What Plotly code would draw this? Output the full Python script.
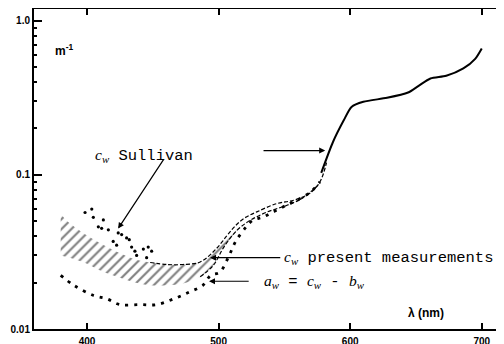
import plotly.graph_objects as go
import math

# ---- data ----
cw_upper_wl = [380, 385, 397, 410, 423, 435, 448, 461, 473, 486, 498, 506, 512, 519, 529, 544, 557, 569, 577, 582]
cw_upper = [0.056, 0.050, 0.042, 0.036, 0.0316, 0.0286, 0.027, 0.0262, 0.0262, 0.0272, 0.033, 0.040, 0.046,
            0.052, 0.0575, 0.065, 0.0684, 0.0756, 0.090, 0.12]

cw_lower_wl = [380, 397, 410, 423, 435, 448, 461, 473, 486, 496, 504, 514, 524, 537, 552, 564, 577]
cw_lower = [0.030, 0.0272, 0.024, 0.0218, 0.0202, 0.0192, 0.0192, 0.0197, 0.0218, 0.0259, 0.034, 0.0437,
            0.0507, 0.0575, 0.0635, 0.0709, 0.088]

aw_wl = [380, 390, 405, 415, 425, 440, 453, 466, 478, 488, 494, 501, 508, 513, 521, 526, 534, 544, 554, 562, 570, 577]
aw = [0.0223, 0.0192, 0.0165, 0.0157, 0.0144, 0.0144, 0.0144, 0.0157, 0.0174, 0.0192, 0.0223, 0.0234, 0.030,
      0.037, 0.046, 0.0507, 0.0534, 0.0589, 0.0651, 0.0702, 0.0776, 0.090]

solid_wl = [578, 587, 595, 601, 610, 628, 644, 652, 661, 673, 686, 695, 700]
solid = [0.103, 0.164, 0.225, 0.276, 0.298, 0.316, 0.342, 0.378, 0.422, 0.439, 0.490, 0.566, 0.661]

sullivan_wl = [398.5, 403.6, 404.8, 408.6, 411.1, 412.4, 416.2, 419.9, 422.5, 423.7, 426.3, 430.1, 432.1,
               433.9, 436.4, 437.7, 442.8, 445.3, 446.5, 449.1]
sullivan = [0.057, 0.060, 0.053, 0.046, 0.045, 0.051, 0.044, 0.037, 0.035, 0.042, 0.041, 0.039, 0.038,
            0.034, 0.032, 0.030, 0.033, 0.029, 0.034, 0.032]

x_ticks = [400, 500, 600, 700]
y_ticks = [0.01, 0.1, 1.0]
y_ticktext = ["0.01", "0.1", "1.0"]
y_minor = [0.02, 0.03, 0.04, 0.05, 0.06, 0.07, 0.08, 0.09, 0.2, 0.3, 0.4, 0.5, 0.6, 0.7, 0.8, 0.9]

BAND_END = 516
UPPER_DASH_START = 438
LOWER_DASH_START = 486

fig = go.Figure()

# hatched band (c_w present measurements)
lw = [w for w in cw_lower_wl if w <= BAND_END]
lv = [v for w, v in zip(cw_lower_wl, cw_lower) if w <= BAND_END]
uw = [w for w in cw_upper_wl if w <= BAND_END]
uv = [v for w, v in zip(cw_upper_wl, cw_upper) if w <= BAND_END]
fig.add_trace(go.Scatter(x=lw, y=lv, mode="lines", line=dict(width=0, shape="spline", color="black"),
                         showlegend=False, hoverinfo="skip"))
fig.add_trace(go.Scatter(x=uw, y=uv, mode="lines", line=dict(width=0, shape="spline", color="black"),
                         fill="tonexty", fillcolor="rgba(0,0,0,0)",
                         fillpattern=dict(shape="/", size=7, solidity=0.3, fgcolor="black", bgcolor="white"),
                         showlegend=False, hoverinfo="skip"))

# dashed boundaries
fig.add_trace(go.Scatter(x=[w for w in cw_upper_wl if w >= UPPER_DASH_START],
                         y=[v for w, v in zip(cw_upper_wl, cw_upper) if w >= UPPER_DASH_START],
                         mode="lines", line=dict(color="black", width=1.2, dash="4px,2px", shape="spline"),
                         showlegend=False))
fig.add_trace(go.Scatter(x=[w for w in cw_lower_wl if w >= LOWER_DASH_START],
                         y=[v for w, v in zip(cw_lower_wl, cw_lower) if w >= LOWER_DASH_START],
                         mode="lines", line=dict(color="black", width=1.2, dash="4px,2px", shape="spline"),
                         showlegend=False))

# a_w dotted
fig.add_trace(go.Scatter(x=aw_wl, y=aw, mode="lines",
                         line=dict(color="black", width=2.8, dash="3px,6px", shape="spline"),
                         showlegend=False))

# solid long-wavelength part
fig.add_trace(go.Scatter(x=solid_wl, y=solid, mode="lines",
                         line=dict(color="black", width=2, shape="spline", smoothing=0.7),
                         showlegend=False))

# Sullivan points
fig.add_trace(go.Scatter(x=sullivan_wl, y=sullivan, mode="markers",
                         marker=dict(color="black", size=3.2, symbol="circle"),
                         showlegend=False))

L = math.log10
mono = "Liberation Mono"
cw = "<span style=\"font-family:'Liberation Serif'\"><i>c<sub>w</sub></i></span>"
aw_t = "<span style=\"font-family:'Liberation Serif'\"><i>a<sub>w</sub></i></span>"
bw_t = "<span style=\"font-family:'Liberation Serif'\"><i>b<sub>w</sub></i></span>"

annotations = [
    dict(x=443, y=L(0.134), xref="x", yref="y", text=cw + " Sullivan", showarrow=False,
         xanchor="center", font=dict(family=mono, size=15.5, color="black")),
    dict(x=548, y=L(0.0292), xref="x", yref="y", text=cw + " present measurements", showarrow=False,
         xanchor="left", font=dict(family=mono, size=15.5, color="black")),
    dict(x=533, y=L(0.0204), xref="x", yref="y", text=aw_t + " = " + cw + " - " + bw_t, showarrow=False,
         xanchor="left", font=dict(family=mono, size=15.5, color="black")),
    # arrows
    dict(x=423.6, y=L(0.0448), ax=459, ay=L(0.129), xref="x", yref="y", axref="x", ayref="y",
         text="", showarrow=True, arrowhead=2, arrowsize=1, arrowwidth=1.2, arrowcolor="black"),
    dict(x=581, y=L(0.1437), ax=533, ay=L(0.1437), xref="x", yref="y", axref="x", ayref="y",
         text="", showarrow=True, arrowhead=2, arrowsize=1, arrowwidth=1.2, arrowcolor="black"),
    dict(x=493.5, y=L(0.0290), ax=548, ay=L(0.0290), xref="x", yref="y", axref="x", ayref="y",
         text="", showarrow=True, arrowhead=2, arrowsize=1, arrowwidth=1.2, arrowcolor="black"),
    dict(x=492.7, y=L(0.0204), ax=524, ay=L(0.0204), xref="x", yref="y", axref="x", ayref="y",
         text="", showarrow=True, arrowhead=2, arrowsize=1, arrowwidth=1.2, arrowcolor="black"),
    # unit labels
    dict(x=0.064, y=0.872, xref="paper", yref="paper", xanchor="center", yanchor="middle",
         text="<b>m<sup>-1</sup></b>", showarrow=False,
         font=dict(family="Liberation Sans", size=12, color="black")),
    dict(x=0.834, y=0.05, xref="paper", yref="paper", xanchor="center", yanchor="middle",
         text="<b>λ (nm)</b>", showarrow=False,
         font=dict(family="Liberation Sans", size=12, color="black")),
]

# page body has an 8px default margin: figure is 496x336 so it fills the 504x344 window
fig.update_layout(
    width=496, height=336,
    margin=dict(l=26, r=0, t=1, b=15),
    paper_bgcolor="white", plot_bgcolor="white",
    showlegend=False,
    annotations=annotations,
    xaxis=dict(range=[359.7, 716.9], tickvals=x_ticks, ticks="inside", ticklen=6, tickwidth=1.5,
               tickcolor="black", showline=True, linecolor="black", linewidth=2, mirror="ticks",
               showgrid=False, zeroline=False, automargin=False, ticklabelstandoff=2,
               tickfont=dict(family="Liberation Sans", size=10, color="black", weight="bold")),
    yaxis=dict(type="log", range=[-2, 0.076], tickvals=y_ticks, ticktext=y_ticktext, ticks="inside",
               ticklen=8, tickwidth=1.5, tickcolor="black", showline=True, linecolor="black", linewidth=2,
               showgrid=False, zeroline=False, automargin=False,
               minor=dict(tickvals=y_minor, ticks="inside", ticklen=3, tickwidth=1.5, tickcolor="black",
                          showgrid=False),
               tickfont=dict(family="Liberation Sans", size=10, color="black", weight="bold")),
)

fig.write_html("out.html")
